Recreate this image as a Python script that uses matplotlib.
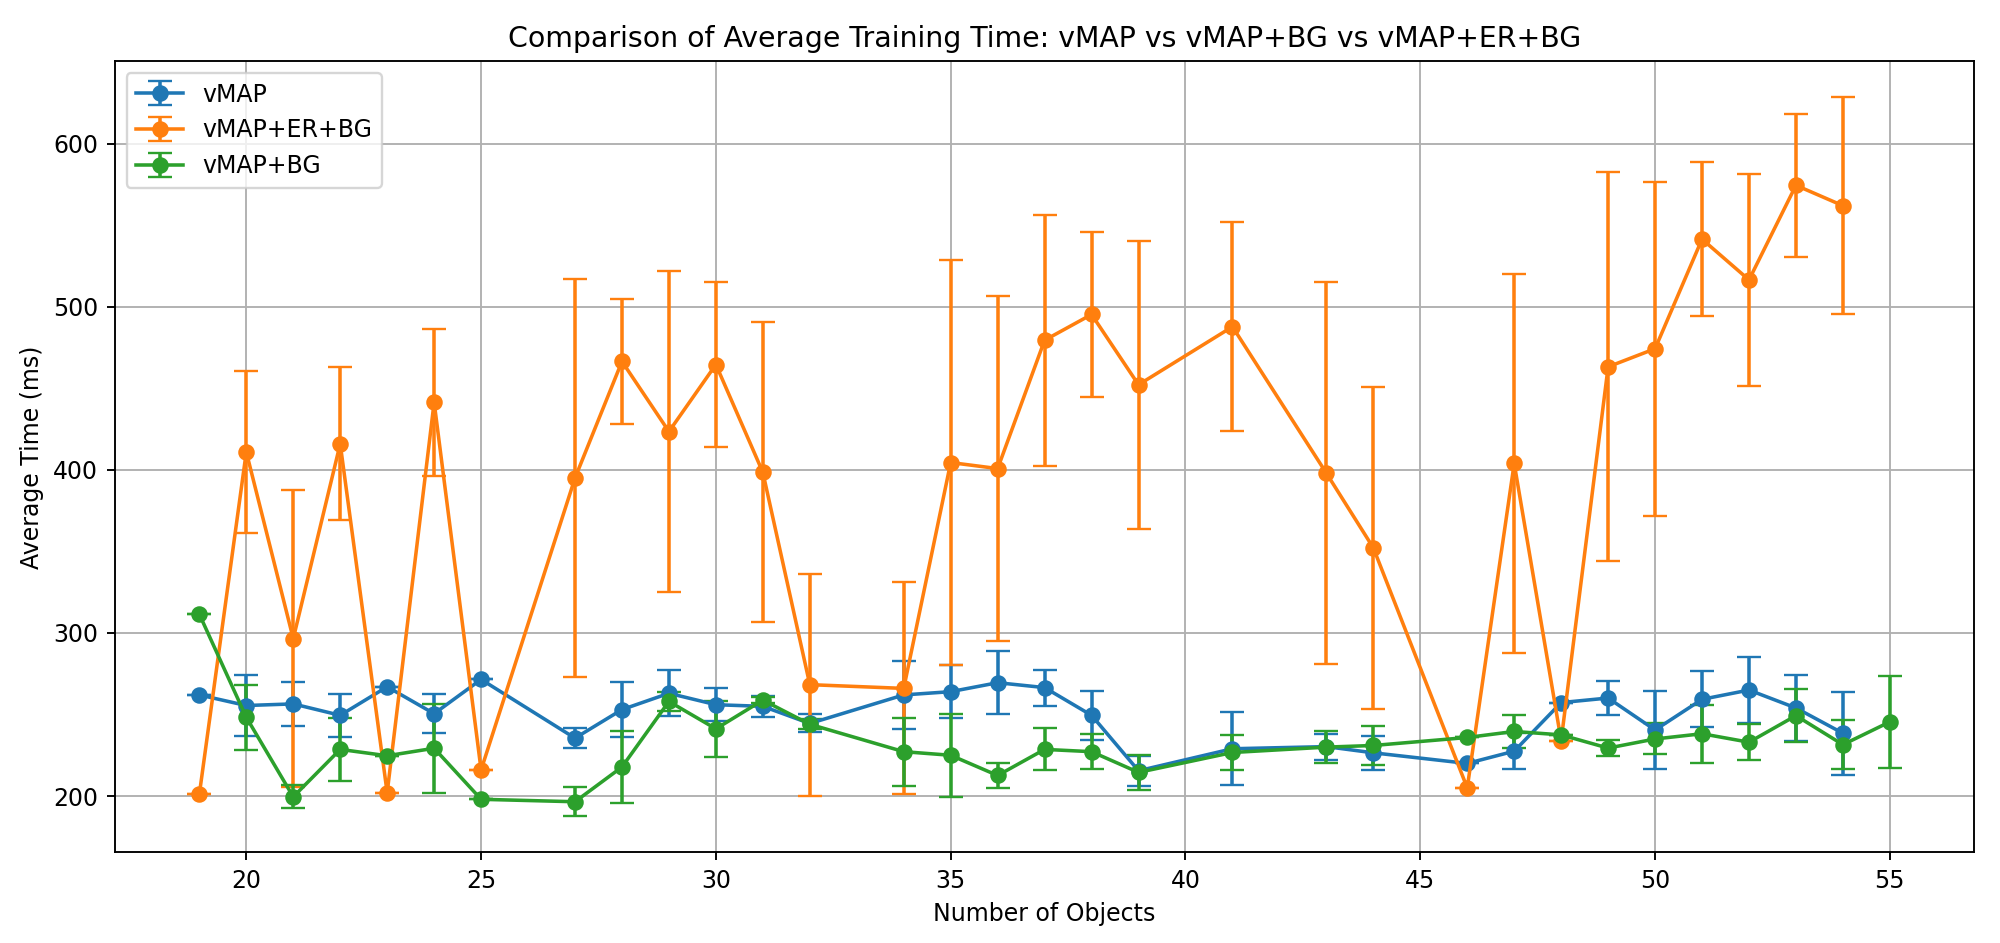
import matplotlib
matplotlib.use('Agg')
import matplotlib.pyplot as plt
import numpy as np

# number of objects per run
x_vmap = [19, 20, 21, 22, 23, 24, 25, 27, 28, 29, 30, 31, 32, 34, 35, 36, 37, 38, 39,
          41, 43, 44, 46, 47, 48, 49, 50, 51, 52, 53, 54]
x_er_bg = [19, 20, 21, 22, 23, 24, 25, 27, 28, 29, 30, 31, 32, 34, 35, 36, 37, 38, 39,
           41, 43, 44, 46, 47, 48, 49, 50, 51, 52, 53, 54]
x_bg = [19, 20, 21, 22, 23, 24, 25, 27, 28, 29, 30, 31, 32, 34, 35, 36, 37, 38, 39,
        41, 43, 44, 46, 47, 48, 49, 50, 51, 52, 53, 54, 55]

# average time (ms) and std
vmap_mean = [262, 255.5, 256.5, 249.5, 267, 250.5, 271.5, 235.5, 253, 263, 256, 255, 244.5,
             262, 264, 269.5, 266.5, 249.5, 215.5, 229, 230.3, 226.5, 220, 227.5, 257.3,
             260.1, 240.5, 259.3, 265, 254, 238.5]
vmap_std = [0, 18.9, 13.5, 13, 0, 12, 0, 6, 17, 14, 10, 6.5, 5.5,
            20.7, 16.3, 19.5, 11, 15.2, 9.3, 22.3, 8, 10.5, 0, 11, 0,
            10.7, 24, 17.2, 20.4, 20.2, 25.5]

er_bg_mean = [201, 411, 296.5, 416, 202, 441.5, 216, 395, 466.5, 423.5, 464.6, 398.5, 268.3,
              266, 404.5, 400.8, 479.5, 495.3, 452.2, 487.8, 398, 352.2, 205, 404, 234,
              463.2, 474.3, 541.5, 516.5, 574.5, 562]
er_bg_std = [0, 49.7, 91, 47, 0, 45, 0, 122, 38.5, 98.5, 50.4, 92, 68,
             65, 124.3, 106, 77, 50.5, 88.2, 64, 117, 98.6, 0, 116, 0,
             119.2, 102.3, 47, 65, 44, 66.5]

bg_mean = [311.5, 248.3, 199.5, 228.6, 224.7, 229.3, 198, 196.5, 217.8, 258, 241.2, 258.8, 244,
           227.2, 225, 212.6, 228.6, 227.2, 214.5, 226.7, 230, 231, 235.9, 239.6, 237.5,
           229.4, 235, 238.2, 233, 249.3, 231.5, 245.5]
bg_std = [0, 19.8, 7.1, 19.4, 0, 27.4, 0, 9, 22.2, 6, 17.3, 2, 3,
          20.8, 25.6, 7.5, 12.9, 10.8, 10.5, 10.8, 10, 12, 0, 10.3, 0,
          4.7, 9.5, 17.8, 10.9, 16.2, 15.2, 28.2]

DPI = 170
fig = plt.figure(figsize=(2000 / DPI, 943 / DPI), dpi=DPI)
ax = fig.add_subplot(111)
fig.subplots_adjust(left=0.0574, right=0.9872, bottom=0.0961, top=0.935)

ax.errorbar(x_vmap, vmap_mean, yerr=vmap_std, fmt='-o', capsize=5, label='vMAP')
ax.errorbar(x_er_bg, er_bg_mean, yerr=er_bg_std, fmt='-o', capsize=5, label='vMAP+ER+BG')
ax.errorbar(x_bg, bg_mean, yerr=bg_std, fmt='-o', capsize=5, label='vMAP+BG')

ax.set_title('Comparison of Average Training Time: vMAP vs vMAP+BG vs vMAP+ER+BG')
ax.set_xlabel('Number of Objects')
ax.set_ylabel('Average Time (ms)')
ax.legend(loc='upper left')
ax.grid(True)

fig.savefig('out.png', dpi=DPI)
